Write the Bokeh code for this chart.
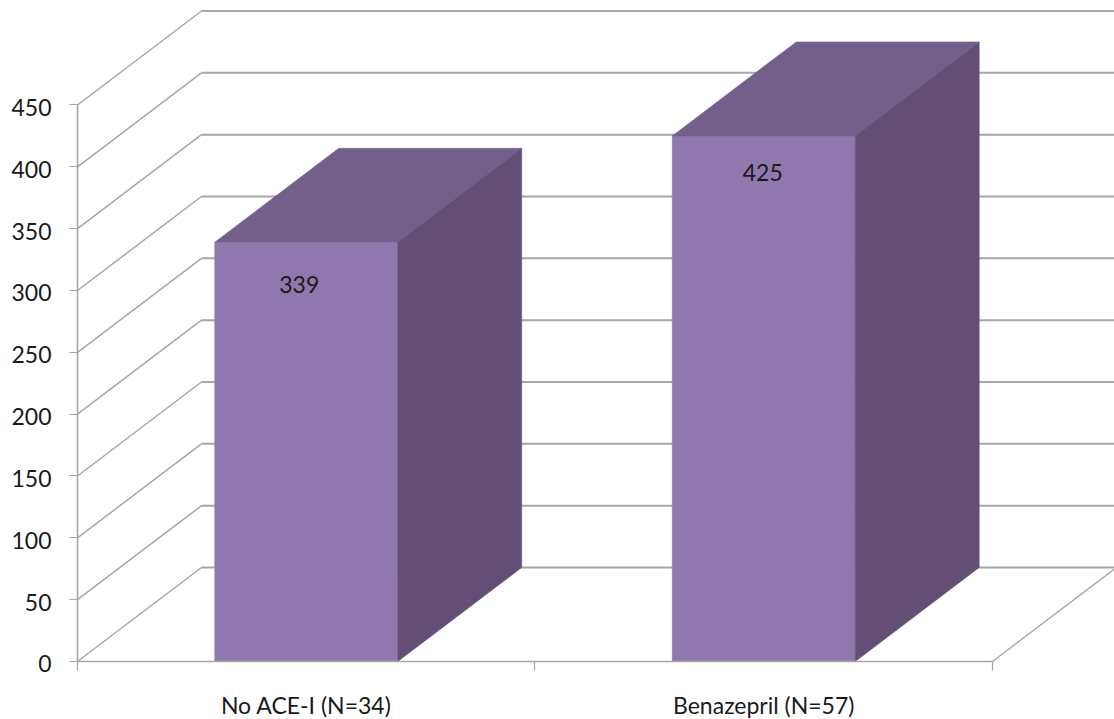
from bokeh.embed import file_html
from bokeh.core.properties import value
from bokeh.models import ColumnDataSource, FixedTicker, LinearAxis, Range1d
from bokeh.plotting import figure
from bokeh.resources import INLINE

categories = ["No ACE-I (N=34)", "Benazepril (N=57)"]
levels = [339, 425]
y_ticks = [0, 50, 100, 150, 200, 250, 300, 350, 400, 450]

# Screen offsets of the value labels from the top front edge of each box.
label_dx = [-7, -1]
label_dy = [42, 37]

FONT = "Lato"
FONT_SIZE = "23px"
INK = "#1a1a1a"
GRID = "#a6a6a6"
FRONT = "#8f78ad"
TOP = "#72608a"
SIDE = "#634e76"

# Oblique projection used for the box depth, in axis units.
DEPTH_X = 0.271
DEPTH_Y = 76.0
BAR_WIDTH = 0.4
X_START, X_END = -0.1683, 2.2667
Y_START, Y_END = -46.9, 534.5
# Value-axis text sits slightly below its tick.
LABEL_SHIFT = 2.0

p = figure(
    width=1114, height=719, output_backend="svg", toolbar_location=None,
    x_range=Range1d(X_START, X_END), y_range=Range1d(Y_START, Y_END),
    x_axis_location=None, y_axis_location=None,
    min_border_left=0, min_border_right=0, min_border_top=0, min_border_bottom=0,
    outline_line_color=None, background_fill_color="white",
)
p.extra_y_ranges["tick_text"] = Range1d(Y_START + LABEL_SHIFT, Y_END + LABEL_SHIFT)
p.grid.visible = False

# Walls: each level runs back along the side wall, then across the rear wall.
p.multi_line(
    xs=[[0, DEPTH_X] for _ in y_ticks],
    ys=[[v, v + DEPTH_Y] for v in y_ticks],
    line_color=GRID, line_width=1.5,
)
p.multi_line(
    xs=[[DEPTH_X, X_END] for _ in y_ticks],
    ys=[[v + DEPTH_Y, v + DEPTH_Y] for v in y_ticks],
    line_color=GRID, line_width=2,
)
# Right edge of the floor.
p.line([len(categories), len(categories) + DEPTH_X], [0, DEPTH_Y], line_color=GRID, line_width=1.5)

# Three visible faces of each box.
for i, v in enumerate(levels):
    left = i + 0.5 - BAR_WIDTH / 2
    right = i + 0.5 + BAR_WIDTH / 2
    p.patch([left, right, right, left], [0, 0, v, v],
            fill_color=FRONT, line_color=FRONT, line_width=0.5)
    p.patch([left, right, right + DEPTH_X, left + DEPTH_X],
            [v, v, v + DEPTH_Y, v + DEPTH_Y],
            fill_color=TOP, line_color=TOP, line_width=0.5)
    p.patch([right, right + DEPTH_X, right + DEPTH_X, right],
            [0, DEPTH_Y, v + DEPTH_Y, v],
            fill_color=SIDE, line_color=SIDE, line_width=0.5)

labels = ColumnDataSource(dict(
    x=[i + 0.5 for i in range(len(levels))],
    y=levels,
    text=[str(v) for v in levels],
    dx=label_dx,
    dy=label_dy,
))
p.text(x="x", y="y", text="text", source=labels, x_offset="dx", y_offset="dy",
       text_align="center", text_baseline="middle", text_color=INK,
       text_font=value(FONT), text_font_size=FONT_SIZE)

# Axis line and tick marks.
y_axis = LinearAxis(
    fixed_location=0,
    ticker=FixedTicker(ticks=y_ticks), bounds=(y_ticks[0], y_ticks[-1]),
    major_label_overrides={v: "" for v in y_ticks},
    axis_line_color=GRID, axis_line_width=1.6,
    major_tick_line_color=GRID, major_tick_line_width=1.2,
    major_tick_in=0, major_tick_out=8, minor_tick_in=0, minor_tick_out=0,
    major_label_standoff=0, major_label_text_font_size="1px",
)
p.add_layout(y_axis, "left")

# Axis text, on a range offset by a couple of units.
y_text_axis = LinearAxis(
    fixed_location=0,
    y_range_name="tick_text",
    ticker=FixedTicker(ticks=y_ticks),
    axis_line_color=None, major_tick_line_color=None, minor_tick_line_color=None,
    major_tick_in=0, major_tick_out=0, minor_tick_in=0, minor_tick_out=0,
    major_label_standoff=26, major_label_text_font=FONT,
    major_label_text_font_size=FONT_SIZE, major_label_text_color=INK,
)
p.add_layout(y_text_axis, "left")

x_axis = LinearAxis(
    fixed_location=0,
    ticker=FixedTicker(ticks=[i + 0.5 for i in range(len(categories))],
                       minor_ticks=list(range(len(categories) + 1))),
    major_label_overrides={i + 0.5: c for i, c in enumerate(categories)},
    bounds=(0, len(categories)),
    axis_line_color=GRID, axis_line_width=1.6,
    major_tick_in=0, major_tick_out=0,
    minor_tick_line_color=GRID, minor_tick_line_width=1.2,
    minor_tick_in=0, minor_tick_out=9,
    major_label_standoff=20, major_label_text_font=FONT,
    major_label_text_font_size=FONT_SIZE, major_label_text_color=INK,
)
p.add_layout(x_axis, "below")

open("out.html", "w").write(file_html(p, INLINE))
